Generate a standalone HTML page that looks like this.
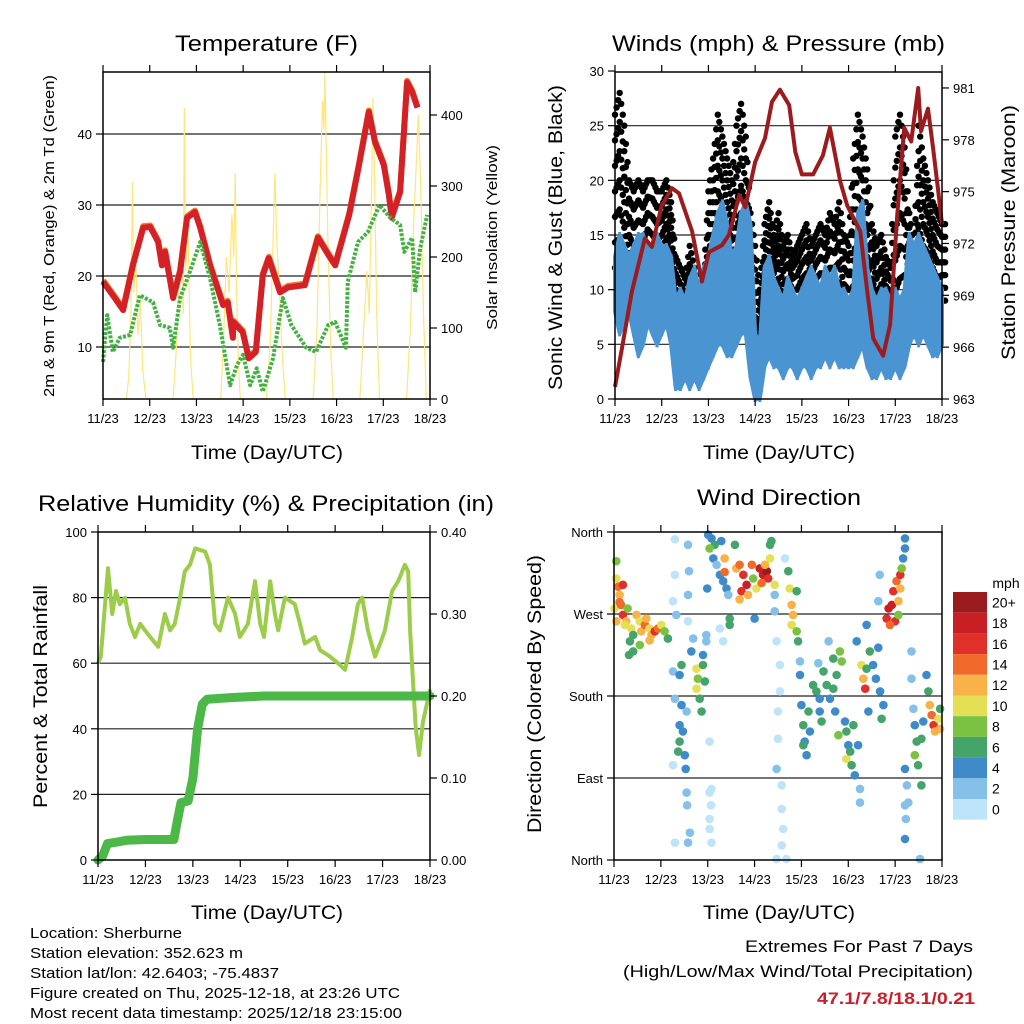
<!DOCTYPE html>
<html><head><meta charset="utf-8"><style>
html,body{margin:0;padding:0;background:#fff;}
svg{display:block;font-family:"Liberation Sans Narrow","Liberation Sans",sans-serif;}
</style></head><body>
<svg id="chart" xmlns="http://www.w3.org/2000/svg" width="1024" height="1024" viewBox="0 0 1024 1024">
<rect x="0" y="0" width="1024" height="1024" fill="#fff"/>
<g id="layer"></g>
<g font-size="22" fill="#000" text-anchor="start">
<text x="175" y="51" textLength="183" lengthAdjust="spacingAndGlyphs">Temperature (F)</text>
<text x="612" y="51" textLength="333" lengthAdjust="spacingAndGlyphs">Winds (mph) &amp; Pressure (mb)</text>
<text x="38" y="511" textLength="456" lengthAdjust="spacingAndGlyphs">Relative Humidity (%) &amp; Precipitation (in)</text>
<text x="697" y="505" textLength="164" lengthAdjust="spacingAndGlyphs">Wind Direction</text>
</g>
<g font-size="19">
<text x="191" y="459" textLength="152" lengthAdjust="spacingAndGlyphs">Time (Day/UTC)</text>
<text x="703" y="459" textLength="152" lengthAdjust="spacingAndGlyphs">Time (Day/UTC)</text>
<text x="191" y="919" textLength="152" lengthAdjust="spacingAndGlyphs">Time (Day/UTC)</text>
<text x="703" y="919" textLength="152" lengthAdjust="spacingAndGlyphs">Time (Day/UTC)</text>
</g>
<g>
<text transform="translate(54,397) rotate(-90)" font-size="15" textLength="322" lengthAdjust="spacingAndGlyphs">2m &amp; 9m T (Red, Orange) &amp; 2m Td (Green)</text>
<text transform="translate(497,330) rotate(-90)" font-size="15" textLength="185" lengthAdjust="spacingAndGlyphs">Solar Insolation (Yellow)</text>
<text transform="translate(562,390) rotate(-90)" font-size="19" textLength="305" lengthAdjust="spacingAndGlyphs">Sonic Wind &amp; Gust (Blue, Black)</text>
<text transform="translate(1015,360) rotate(-90)" font-size="19" textLength="255" lengthAdjust="spacingAndGlyphs">Station Pressure (Maroon)</text>
<text transform="translate(47,808) rotate(-90)" font-size="19" textLength="223" lengthAdjust="spacingAndGlyphs">Percent &amp; Total Rainfall</text>
<text transform="translate(541,833) rotate(-90)" font-size="19" textLength="278" lengthAdjust="spacingAndGlyphs">Direction (Colored By Speed)</text>
</g>
<g font-size="15">
<text x="30" y="938" textLength="152" lengthAdjust="spacingAndGlyphs">Location: Sherburne</text>
<text x="30" y="958" textLength="213" lengthAdjust="spacingAndGlyphs">Station elevation: 352.623 m</text>
<text x="30" y="978" textLength="249" lengthAdjust="spacingAndGlyphs">Station lat/lon: 42.6403; -75.4837</text>
<text x="30" y="998" textLength="370" lengthAdjust="spacingAndGlyphs">Figure created on Thu, 2025-12-18, at 23:26 UTC</text>
<text x="30" y="1018" textLength="372" lengthAdjust="spacingAndGlyphs">Most recent data timestamp: 2025/12/18 23:15:00</text>
</g>
<g font-size="17">
<text x="745" y="952" textLength="228" lengthAdjust="spacingAndGlyphs">Extremes For Past 7 Days</text>
<text x="623" y="977" textLength="350" lengthAdjust="spacingAndGlyphs">(High/Low/Max Wind/Total Precipitation)</text>
<text x="817" y="1004" textLength="158" lengthAdjust="spacingAndGlyphs" fill="#c8202a" font-weight="bold">47.1/7.8/18.1/0.21</text>
</g>
</svg>
<script>
// ---------- data ----------
const dayLabels = ["11/23","12/23","13/23","14/23","15/23","16/23","17/23","18/23"];
const tempTicks = [10,20,30,40];
const solarTicks = [0,100,200,300,400];
const windTicks = [0,5,10,15,20,25,30];
const presTicks = [963,966,969,972,975,978,981];
const rhTicks = [0,20,40,60,80,100];
const rainTicks = ["0.00","0.10","0.20","0.30","0.40"];
const dirTicks = [0,90,180,270,360];
const dirLabels = ["North","East","South","West","North"];
const speedBins = ["0","2","4","6","8","10","12","14","16","18","20+"];
const speedColors = ["#bde4f8","#84c0e8","#3f8bc9","#44a46a","#7cc242","#e4e055","#f8b247","#f16a2b","#e0302a","#c71f24","#991b1e"];

const tempDay = [0,0.21,0.43,0.64,0.86,1.01,1.18,1.26,1.33,1.5,1.65,1.8,1.97,2.08,2.29,2.57,2.67,2.78,2.79,2.99,3.12,3.27,3.42,3.55,3.79,3.96,4.32,4.6,4.82,4.97,5.27,5.48,5.69,5.82,6.01,6.12,6.18,6.36,6.51,6.62,6.73];
const tempVal = [19.2,17.3,15.2,21.5,26.8,26.9,24.8,21.5,23.4,16.9,20.6,28.2,29.0,26.8,21.5,15.9,16.3,11.3,13.5,12.1,8.4,9.3,20.1,22.5,17.7,18.4,18.7,25.4,23.0,21.5,28.6,35.6,43.1,38.9,35.6,31.4,28.2,31.8,47.3,45.9,43.7];
const dewDay = [0,0.09,0.21,0.36,0.58,0.79,1.07,1.22,1.43,1.5,1.65,1.86,2.08,2.29,2.5,2.72,2.87,3.0,3.15,3.29,3.42,3.64,3.85,4.03,4.35,4.56,4.82,4.97,5.2,5.24,5.46,5.67,5.92,6.15,6.36,6.45,6.62,6.68,6.79,6.94];
const dewVal = [7.9,14.5,9.3,11.3,11.7,17.3,16.3,13.1,12.7,9.9,16.9,20.6,24.8,19.7,13.1,4.6,7.5,8.9,4.6,7.0,3.7,8.4,16.9,13.1,9.9,9.3,13.1,13.5,9.9,19.2,24.8,26.2,30.0,28.2,27.2,23.4,25.4,17.7,23.9,28.6];
const solarDay = [0,0.5,0.55,0.6,0.63,0.66,0.7,0.75,0.8,0.85,0.92,1.5,1.56,1.62,1.68,1.72,1.74,1.77,1.82,1.87,1.93,2.52,2.58,2.64,2.7,2.76,2.8,2.83,2.86,2.9,2.94,3.5,3.58,3.63,3.68,3.72,3.78,3.84,3.9,4.5,4.58,4.65,4.7,4.73,4.75,4.78,4.82,4.88,4.93,5.5,5.58,5.65,5.7,5.75,5.78,5.82,5.86,5.92,6.5,6.58,6.65,6.72,6.75,6.8,6.86,6.92,7];
const solarVal = [0,0,30,120,306,150,200,90,140,40,0,0,60,150,200,120,410,180,240,60,0,0,80,200,150,260,200,318,150,50,0,0,80,200,318,220,150,60,0,0,100,300,420,380,460,350,200,60,0,0,100,180,120,300,424,280,120,0,0,100,250,350,400,300,120,0,0];

const windHi = [13,15,14,13,14,15,15,14,14,15,14,14,13,9,10,9,11,12,10,12,13,15,17,18,16,13,14,17,18,16,6,5,12,13,11,10,9,11,10,9,10,11,12,11,10,12,11,12,10,10,9,10,17,18,12,10,9,10,10,9,10,9,10,15,14,15,14,13,12,11,10];
const windLo = [8,6,7,8,6,4,5,7,6,5,6,7,5,1,1,2,1,2,1,2,3,4,5,5,4,4,5,6,6,2,0,0,3,4,3,3,2,3,3,2,3,3,2,3,3,4,3,4,3,3,3,3,4,5,3,2,2,3,2,2,3,2,3,5,6,5,6,5,4,4,5];
const gustHi = [26,28,25,20,19,20,19,20,20,19,19,20,18,13,12,11,14,12,10,11,19,22,26,24,22,20,25,27,24,17,14,10,16,18,15,17,14,15,13,14,15,16,14,15,16,15,17,16,18,15,14,22,26,24,21,16,14,15,13,12,24,26,23,17,14,25,22,20,18,17,16];
const gustLo = [12,12,11,10,9,9,10,11,10,10,11,12,11,4,3,3,4,4,3,5,7,10,12,12,10,9,11,12,12,6,1,2,7,9,8,8,7,7,7,6,7,7,6,7,7,8,7,8,7,6,6,8,11,12,9,6,5,6,5,5,7,8,9,9,10,11,10,10,9,8,9];
const presDay = [0,0.15,0.36,0.64,0.79,1.0,1.22,1.37,1.65,1.86,2.01,2.29,2.44,2.66,2.79,3.0,3.21,3.36,3.53,3.73,3.86,4.0,4.24,4.45,4.6,4.82,4.97,5.25,5.4,5.53,5.74,5.89,6.04,6.19,6.34,6.49,6.55,6.7,6.81,6.92,7.0];
const presVal = [963.7,965.95,969.2,972.3,971.8,974.2,975.2,974.9,972.7,969.8,971.5,971.9,972.5,974.8,974.1,976.7,978.1,980.2,980.9,980.0,977.3,976.0,976.0,977.1,978.7,975.6,974.2,972.7,969.2,966.5,965.5,967.3,973.6,978.7,977.9,981.0,978.5,979.8,977.5,975.0,973.1];

const rhDay = [0,0.06,0.21,0.3,0.38,0.46,0.57,0.67,0.78,0.89,0.99,1.1,1.27,1.41,1.52,1.62,1.73,1.83,1.94,2.05,2.26,2.36,2.47,2.57,2.74,2.89,2.99,3.16,3.31,3.42,3.5,3.63,3.73,3.8,3.94,4.15,4.26,4.36,4.58,4.68,4.89,5.06,5.21,5.36,5.48,5.57,5.69,5.84,5.95,6.05,6.2,6.33,6.47,6.54,6.58,6.64,6.7,6.77,6.85,6.94,7.0];
const rhVal = [60,62,89,75,82,78,80,72,68,72,70,68,65,75,70,72,80,88,90,95,94,90,72,70,80,75,68,72,85,72,68,85,75,70,80,78,72,66,68,64,62,60,58,68,78,80,70,62,66,70,82,85,90,88,70,55,40,32,42,48,52];
const rainDay = [0,0.1,0.2,0.4,0.6,1.0,1.6,1.68,1.75,1.9,2.0,2.1,2.2,2.3,2.8,3.5,7.0];
const rainVal = [0,0.005,0.02,0.022,0.024,0.025,0.025,0.05,0.07,0.072,0.1,0.16,0.19,0.196,0.198,0.2,0.2];

const wdDay = [0.05,0.05,0.09,0.19,0.12,0.01,0.05,0.15,0.19,0.26,0.29,0.37,0.41,0.34,0.48,0.55,0.58,0.66,0.69,0.76,0.80,0.87,0.94,1.01,1.08,1.15,0.41,0.32,0.55,0.76,0.12,0.23,
1.30,1.30,1.26,1.33,1.26,1.30,1.58,1.60,1.58,1.58,1.55,1.55,1.56,1.30,1.58,1.62,1.26,
1.44,1.40,1.44,1.40,1.40,1.37,1.51,1.53,1.47,1.65,1.69,1.97,1.97,
1.76,1.79,1.76,1.83,1.87,1.90,1.94,1.90,
2.04,2.04,2.07,2.04,2.04,2.08,2.08,
2.01,2.08,2.15,2.04,2.12,2.19,2.26,2.33,2.40,2.44,2.36,2.36,2.29,2.58,2.47,2.47,2.26,2.33,1.99,
2.61,2.68,2.76,2.83,2.72,2.68,2.86,2.94,2.97,3.04,3.11,3.18,3.26,3.29,3.22,3.15,3.33,3.36,3.33,3.00,3.43,
3.65,3.43,3.43,3.47,3.54,3.54,3.50,3.50,3.47,3.58,3.58,3.61,3.58,3.68,3.47,
3.72,3.75,3.79,3.82,3.79,3.90,3.93,3.90,
3.97,3.97,4.00,4.04,4.07,4.11,4.15,4.18,4.04,
4.25,4.32,4.39,4.47,4.54,4.61,4.68,4.75,4.82,4.86,4.68,4.72,4.39,4.58,4.36,4.43,4.79,
4.96,5.00,4.96,5.04,5.07,5.14,5.21,4.93,5.11,
5.28,5.32,5.36,5.39,5.46,5.53,5.59,5.68,5.75,5.64,5.71,5.43,5.25,5.25,5.18,5.39,5.64,5.67,
5.82,5.86,5.93,5.96,6.03,6.11,6.07,6.00,5.89,6.11,6.14,6.17,6.21,6.21,6.07,
6.21,6.25,6.28,6.21,6.23,6.21,6.35,6.35,
6.39,6.42,6.46,6.42,6.49,6.56,6.56,6.60,6.67,6.71,6.74,6.78,6.82,6.85,6.92,6.96,6.96,6.53];
const wdDir = [328,309,300,302,291,276,262,280,269,262,276,254,247,240,269,262,251,258,265,254,247,251,254,258,251,243,229,225,236,241,283,258,
352,313,284,269,207,177,346,317,291,262,163,74,60,19,19,30,104,
214,203,170,148,130,119,115,100,141,229,243,247,240,
210,199,188,177,163,214,196,225,
130,74,60,45,34,19,78,
357,353,346,342,331,324,313,306,298,291,331,316,350,346,265,258,254,240,298,
320,324,313,302,295,286,291,324,309,298,320,313,317,309,324,304,346,350,331,265,302,
331,291,273,240,214,185,163,133,100,82,56,34,16,1,1,
317,298,280,269,258,251,240,295,
218,203,170,148,130,115,163,141,126,
192,185,177,207,192,177,221,203,229,218,188,163,163,240,216,152,137,
141,126,111,119,104,93,126,152,148,
214,199,188,210,229,214,199,185,170,233,155,163,78,63,240,258,284,313,
265,276,280,295,306,298,284,262,258,313,320,331,342,353,269,
100,82,63,60,45,23,229,199,
166,148,130,115,104,133,82,152,203,185,170,159,148,141,155,144,166,1];
const wdSpd = [8,10,14,16,12,10,12,14,16,12,8,10,6,6,12,10,12,14,12,10,12,16,14,10,8,6,6,6,8,12,14,10,
1,1,1,2,2,2,2,2,2,1,2,2,2,1,2,2,1,
6,4,5,4,6,6,4,4,4,4,3,3,3,
10,8,10,6,6,6,6,4,
1,1,1,1,1,1,1,
4,5,6,8,4,3,4,4,5,3,12,14,4,6,6,6,1,1,4,
12,14,16,18,16,12,12,14,8,10,18,18,20,16,12,14,6,6,10,4,10,
1,2,2,1,1,1,1,1,2,1,1,1,1,1,1,
6,10,12,12,10,8,6,6,
3,4,4,6,4,4,6,4,6,
6,6,4,6,6,4,6,6,8,8,6,4,4,3,3,6,8,
6,4,10,6,6,4,4,4,6,
10,12,16,6,6,4,4,4,4,4,6,4,3,3,4,4,3,2,
16,18,18,16,14,12,12,16,14,16,8,4,4,4,8,
4,3,3,2,2,4,2,2,
2,4,6,8,6,6,6,4,4,6,12,14,16,12,10,12,6,2];

// ---------- scales ----------
const P1 = {x0:103,x1:430,y0:72,y1:399};
const P2 = {x0:615,x1:942,y0:72,y1:399};
const P3 = {x0:98,x1:430,y0:532,y1:860};
const P4 = {x0:614,x1:942,y0:532,y1:860};
function xs(p){ return d => p.x0 + d*(p.x1-p.x0)/7; }
const x1s = xs(P1), x2s = xs(P2), x3s = xs(P3), x4s = xs(P4);
const tY = v => 347 - (v-10)*7.1;
const sY = v => 399 - v*0.71;
const wY = v => 399 - v*10.933;
const pY = v => 399 - (v-963)*17.28;
const rhY = v => 860 - v*3.28;
const rnY = v => 860 - v*820;
const dY = v => 860 - v*328/360;

const NS = "http://www.w3.org/2000/svg";
const layer = document.getElementById('layer');
function mk(tag, attrs, parent){
  const el = document.createElementNS(NS, tag);
  for (const k in attrs) el.setAttribute(k, attrs[k]);
  (parent||layer).appendChild(el);
  return el;
}
function grp(name){
  const g = mk('g', {});
  
  
  return g;
}
function poly(xsArr, ysArr){ return xsArr.map((x,i)=>x.toFixed(1)+','+ysArr[i].toFixed(1)).join(' '); }

function frame(p, name, gridVals, gridF){
  const g = grp(name+'-grid');
  gridVals.forEach(v=>{
    const l = mk('line',{x1:p.x0,x2:p.x1,y1:gridF(v),y2:gridF(v),stroke:'#222','stroke-width':1.2},g);
    
    
  });
}
function axes(p, name, xScale){
  const g = grp(name+'-axes');
  const r = mk('rect',{x:p.x0,y:p.y0,width:p.x1-p.x0,height:p.y1-p.y0,fill:'none',stroke:'#000','stroke-width':1.5},g);
  
  
  dayLabels.forEach((lab,i)=>{
    const x = xScale(i);
    mk('line',{x1:x,x2:x,y1:p.y1,y2:p.y1+7,stroke:'#000','stroke-width':1.2},g);
    mk('line',{x1:x,x2:x,y1:p.y0,y2:p.y0-7,stroke:'#000','stroke-width':1.2},g);
    const t = mk('text',{x:x,y:p.y1+24,'font-size':13,'text-anchor':'middle'},g);
    
    
    t.textContent = lab;
  });
}
function yTicks(g, p, vals, labels, f, side){
  vals.forEach((v,i)=>{
    const y = f(v);
    const x = side==='left'? p.x0 : p.x1;
    const dx = side==='left'? -7 : 7;
    mk('line',{x1:x,x2:x+dx,y1:y,y2:y,stroke:'#000','stroke-width':1.2},g);
    const t = mk('text',{x: side==='left'? x-11 : x+11, y:y+5,'font-size':13,'text-anchor':side==='left'?'end':'start'},g);
    
    
    t.textContent = labels[i];
  });
}

// Panel 1
frame(P1,'temp',tempTicks,tY);
{
  const g = grp('solar-line');
  const l = mk('polyline',{points:poly(solarDay.map(x1s),solarVal.map(sY)),fill:'none',stroke:'#ffe57a','stroke-width':1.2},g);
  
  
  const g2 = grp('temperature-lines');
  const o = mk('polyline',{points:poly(tempDay.map(x1s),tempVal.map(v=>tY(v)-1.5)),fill:'none',stroke:'#f47a2c','stroke-width':6,'stroke-linejoin':'round'},g2);
  
  
  const r = mk('polyline',{points:poly(tempDay.map(x1s),tempVal.map(tY)),fill:'none',stroke:'#d42127','stroke-width':6,'stroke-linejoin':'round'},g2);
  
  
  const d = mk('polyline',{points:poly(dewDay.map(x1s),dewVal.map(tY)),fill:'none',stroke:'#45b043','stroke-width':4,'stroke-dasharray':'3 1.5','stroke-linejoin':'round'},g2);
  
  
}
axes(P1,'temp',x1s);
{ const g = grp('temp-y-ticks'); yTicks(g,P1,tempTicks,tempTicks,tY,'left'); yTicks(g,P1,solarTicks,solarTicks,sY,'right'); }

// Panel 2
frame(P2,'winds',[5,10,15,20,25],wY);
{
  const g = grp('gust-dots');
  for (let i=0;i<gustHi.length;i++){
    for (let h=0; h<3; h++){
      const j = Math.min(i+1, gustHi.length-1);
      const f = h/3;
      const hi = gustHi[i]*(1-f)+gustHi[j]*f, lo = gustLo[i]*(1-f)+gustLo[j]*f;
      const d = i*0.1 + h*0.1/3;
      for (let k=0;k<=6;k++){
        const v = lo + (hi-lo)*k/6;
        const c = mk('circle',{cx:x2s(d).toFixed(1),cy:wY(v).toFixed(1),r:3.2,fill:'#000'},g);
        
        
      }
    }
  }
  const g2 = grp('wind-band');
  const days = windHi.map((_,i)=>i*0.1);
  const pts = poly(days.map(x2s),windHi.map(wY)) + ' ' + poly(days.slice().reverse().map(x2s), windLo.slice().reverse().map(wY));
  const b = mk('polygon',{points:pts,fill:'#4b94d2',stroke:'#4b94d2','stroke-width':4,'stroke-linejoin':'round'},g2);
  
  
  for (let i=0;i<windHi.length;i++){
    const s = mk('line',{x1:x2s(days[i]),x2:x2s(days[i]),y1:wY(windHi[i])-3,y2:wY(windLo[i])+3,stroke:'#4b94d2','stroke-width':3},g2);
    
    
  }
  const g3 = grp('pressure-line');
  const pl = mk('polyline',{points:poly(presDay.map(x2s),presVal.map(pY)),fill:'none',stroke:'#9b1b1e','stroke-width':4,'stroke-linejoin':'round'},g3);
  
  
}
axes(P2,'winds',x2s);
{ const g = grp('winds-y-ticks'); yTicks(g,P2,windTicks,windTicks,wY,'left'); yTicks(g,P2,presTicks,presTicks,pY,'right'); }

// Panel 3
frame(P3,'humidity',[20,40,60,80],rhY);
{
  const g = grp('humidity-lines');
  const rh = mk('polyline',{points:poly(rhDay.map(x3s),rhVal.map(rhY)),fill:'none',stroke:'#9ccd4a','stroke-width':4,'stroke-linejoin':'round'},g);
  
  
  const rn = mk('polyline',{points:poly(rainDay.map(x3s),rainVal.map(rnY)),fill:'none',stroke:'#4cb848','stroke-width':9,'stroke-linejoin':'round','stroke-linecap':'round'},g);
  
  
}
axes(P3,'humidity',x3s);
{ const g = grp('humidity-y-ticks'); yTicks(g,P3,rhTicks,rhTicks,rhY,'left'); yTicks(g,P3,rainTicks.map(Number),rainTicks,rnY,'right'); }

// Panel 4
frame(P4,'direction',[90,180,270],dY);
{
  const g = grp('direction-points');
  for (let i=0;i<wdDay.length;i++){
    const bin = Math.min(10, Math.floor(wdSpd[i]/2));
    const c = mk('circle',{cx:x4s(wdDay[i]).toFixed(1),cy:dY(wdDir[i]).toFixed(1),r:4.3,fill:speedColors[bin]},g);
    
    
  }
}
axes(P4,'direction',x4s);
{ const g = grp('direction-y-ticks'); yTicks(g,P4,dirTicks,dirLabels,dY,'left'); }
{
  const g = grp('speed-colorbar');
  const top = 592, h = 20.7;
  const t0 = mk('text',{x:1006,y:588,'font-size':14,'text-anchor':'middle'},g);
  
  
  t0.textContent = 'mph';
  for (let i=0;i<speedBins.length;i++){
    const k = speedBins.length-1-i;
    const r = mk('rect',{x:953,y:top+i*h,width:34,height:h,fill:speedColors[k]},g);
    
    
    const t = mk('text',{x:992,y:top+i*h+h/2+5,'font-size':14},g);
    
    
    t.textContent = speedBins[k];
  }
}
</script>
</body></html>
